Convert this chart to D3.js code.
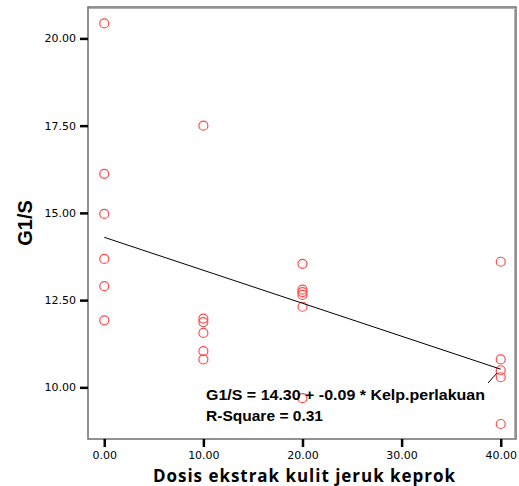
<!DOCTYPE html>
<html>
<head>
<meta charset="utf-8">
<script src="https://cdn.jsdelivr.net/npm/d3@7"></script>
<style>
  body { margin: 0; background: #fff; }
  svg { display: block; }
</style>
</head>
<body>
<div id="chart"></div>
<script>
const doseX = [0, 0, 0, 0, 0, 0,
               10, 10, 10, 10, 10, 10,
               20, 20, 20, 20, 20, 20,
               40, 40, 40, 40, 40];
const g1sY = [20.43, 16.12, 14.97, 13.68, 12.90, 11.92,
              17.50, 11.97, 11.87, 11.56, 11.04, 10.80,
              13.54, 12.80, 12.73, 12.65, 12.31, 9.69,
              13.60, 10.80, 10.49, 10.29, 8.95];
const xTicks = [0, 10, 20, 30, 40];
const yTicks = [10, 12.5, 15, 17.5, 20];
const fitIntercept = 14.30;
const fitSlope = -0.0945;
const fitText = "G1/S = 14.30 + -0.09 * Kelp.perlakuan";
const r2Text = "R-Square = 0.31";
const xTitle = "Dosis ekstrak kulit jeruk keprok";
const yTitle = "G1/S";

const width = 519, height = 486;
const plotL = 88, plotT = 7, plotR = 516, plotB = 439;

const svg = d3.select("#chart").append("svg")
  .attr("width", width)
  .attr("height", height);

const x = d3.scaleLinear().domain([-1.64, 41.54]).range([plotL, plotR]);
const y = d3.scaleLinear().domain([8.52, 20.90]).range([plotB, plotT]);

// frame
svg.append("rect")
  .attr("x", plotL).attr("y", plotT)
  .attr("width", plotR - plotL).attr("height", plotB - plotT)
  .attr("fill", "#fff")
  .attr("stroke", "#6e6e6e")
  .attr("stroke-width", 1.5);
svg.append("path")
  .attr("d", `M${plotL + 1},${plotT + 1.5}H${plotR - 1.5}V${plotB}`)
  .attr("fill", "none")
  .attr("stroke", "#b0b0b0")
  .attr("stroke-width", 1);

// axes
const xAxis = svg.append("g")
  .attr("transform", `translate(0,${plotB})`)
  .call(d3.axisBottom(x).tickValues(xTicks).tickSize(8).tickPadding(4)
    .tickFormat(d3.format(".2f")));
const yAxis = svg.append("g")
  .attr("transform", `translate(${plotL},0)`)
  .call(d3.axisLeft(y).tickValues(yTicks).tickSize(8).tickPadding(4)
    .tickFormat(d3.format(".2f")));
[xAxis, yAxis].forEach(g => {
  g.select(".domain").remove();
  g.selectAll(".tick line").attr("stroke", "#000").attr("stroke-width", 2.5);
  g.selectAll(".tick text")
    .attr("fill", "#000")
    .style("font-family", "'DejaVu Sans', sans-serif")
    .style("font-size", "11px");
});

// points
svg.append("g").selectAll("circle")
  .data(doseX.map((d, i) => [d, g1sY[i]]))
  .join("circle")
  .attr("cx", d => x(d[0]))
  .attr("cy", d => y(d[1]))
  .attr("r", 4.5)
  .attr("fill", "none")
  .attr("stroke", "#ff4a4a")
  .attr("stroke-width", 1.2);

// regression line
svg.append("line")
  .attr("x1", x(0)).attr("y1", y(fitIntercept))
  .attr("x2", x(40)).attr("y2", y(fitIntercept + fitSlope * 40))
  .attr("stroke", "#000")
  .attr("stroke-width", 1);

// annotation leader
svg.append("line")
  .attr("x1", 488).attr("y1", 383)
  .attr("x2", 497).attr("y2", 373)
  .attr("stroke", "#000")
  .attr("stroke-width", 1);

const ann = svg.append("g")
  .style("font-family", "'Liberation Sans', Arial, sans-serif")
  .style("font-weight", "bold")
  .style("font-size", "15.5px");
ann.append("text").attr("x", 206).attr("y", 400)
  .attr("textLength", 279).attr("lengthAdjust", "spacingAndGlyphs").text(fitText);
ann.append("text").attr("x", 206).attr("y", 421)
  .attr("textLength", 117).attr("lengthAdjust", "spacingAndGlyphs").text(r2Text);

// axis titles
svg.append("text")
  .attr("x", 304).attr("y", 482)
  .attr("text-anchor", "middle")
  .attr("textLength", 302)
  .attr("lengthAdjust", "spacing")
  .style("font-family", "'Open Sans', sans-serif")
  .style("font-weight", "bold")
  .style("font-size", "17px")
  .text(xTitle);

svg.append("text")
  .attr("transform", `translate(32,${(plotT + plotB) / 2}) rotate(-90)`)
  .attr("text-anchor", "middle")
  .style("font-family", "'Liberation Sans', Arial, sans-serif")
  .style("font-weight", "bold")
  .style("font-size", "20px")
  .text(yTitle);
</script>
</body>
</html>
